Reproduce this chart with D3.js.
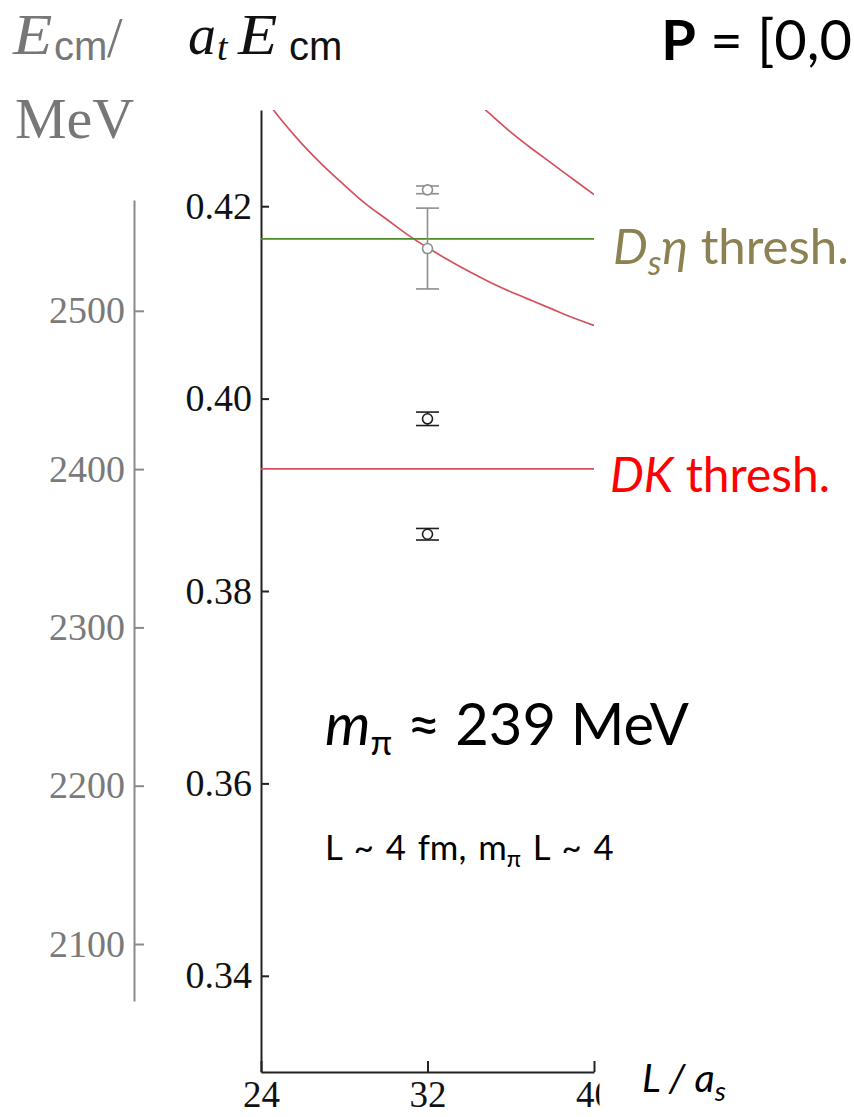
<!DOCTYPE html>
<html>
<head>
<meta charset="utf-8">
<script src="https://cdn.jsdelivr.net/npm/d3@7"></script>
<style>
  html, body { margin: 0; padding: 0; background: #fff; }
  svg { display: block; }
</style>
</head>
<body>
<svg id="chart" width="854" height="1117"></svg>
<script>
// Finite-volume spectrum, P = [0,0,0]: energies in lattice units vs L/a_s

// tick values
const volumeTicks  = [24, 32, 40];
const latticeTicks = [0.34, 0.36, 0.38, 0.40, 0.42];
const mevTicks     = [2100, 2200, 2300, 2400, 2500];

// non-interacting D K levels (lowest and next momentum shell)
const levelAL = [24, 25, 26, 27, 28, 29, 30, 31, 32, 33, 34, 35, 36, 37, 38, 39, 40];
const levelAE = [0.4317, 0.4289, 0.4264, 0.4242, 0.4222, 0.4203, 0.4187, 0.4171, 0.4157,
                 0.4144, 0.4132, 0.4121, 0.4111, 0.4102, 0.4093, 0.4084, 0.4076];
const levelBL = [34, 35, 36, 37, 38, 39, 40];
const levelBE = [0.4315, 0.4296, 0.4277, 0.4260, 0.4244, 0.4228, 0.4212];

// thresholds
const thresholdNames  = ["Dseta", "DK"];
const thresholdValues = [0.4166, 0.3927];

// computed energy levels at L/a_s = 32
const spectrumL    = [32, 32, 32, 32];
const spectrumE    = [0.4217, 0.4156, 0.3979, 0.3859];
const spectrumErr  = [0.0004, 0.0042, 0.0007, 0.0006];
const spectrumKind = ["faint", "faint", "solid", "solid"];

const svg = d3.select("#chart");

const x = d3.scaleLinear().domain([24, 40]).range([261, 594]);
const y = d3.scaleLinear().domain([0.33, 0.43]).range([1072, 110]);
const yMeV = d3.scaleLinear().domain([2064, 2570]).range([1001, 200]);

const serif = "'Liberation Serif', 'Times New Roman', serif";
const sans  = "Lato, 'Open Sans', 'Noto Sans', sans-serif";
const cmSans = "'Liberation Sans', Arial, sans-serif";

const red = "#d4505d", green = "#4d8a2b";
const kindColor = { faint: "#8e8e8e", solid: "#1e1e1e" };

const defs = svg.append("defs");
defs.append("clipPath").attr("id", "plotClip")
  .append("rect").attr("x", x(24)).attr("y", y(0.43))
  .attr("width", x(40) - x(24)).attr("height", y(0.33) - y(0.43));
defs.append("clipPath").attr("id", "xLabelClip")
  .append("rect").attr("x", -400).attr("y", 0).attr("width", 400 + 5).attr("height", 60);

// ---------- MeV axis (left, grey) ----------
const gMeV = svg.append("g").attr("transform", `translate(134,0)`)
  .call(d3.axisRight(yMeV).tickValues(mevTicks).tickSize(10).tickSizeOuter(0).tickFormat(d3.format("d")));
gMeV.select(".domain").attr("stroke", "#8a8a8a").attr("stroke-width", 2);
gMeV.selectAll(".tick line").attr("stroke", "#8a8a8a").attr("stroke-width", 2);
gMeV.selectAll(".tick text").attr("x", -9).attr("text-anchor", "end")
  .attr("fill", "#7a7a7a").style("font-family", serif).style("font-size", "38px");

// ---------- lattice-unit axis ----------
const gY = svg.append("g").attr("transform", `translate(${x(24)},0)`)
  .call(d3.axisRight(y).tickValues(latticeTicks).tickSize(8).tickSizeOuter(0).tickFormat(d3.format(".2f")));
gY.select(".domain").attr("stroke", "#222").attr("stroke-width", 2);
gY.selectAll(".tick line").attr("stroke", "#222").attr("stroke-width", 2);
gY.selectAll(".tick text").attr("x", -9).attr("text-anchor", "end")
  .attr("fill", "#111").style("font-family", serif).style("font-size", "38px");

// ---------- L/a_s axis ----------
const gX = svg.append("g").attr("transform", `translate(0,${y(0.33)})`)
  .call(d3.axisBottom(x).tickValues(volumeTicks).tickSizeInner(-11).tickSizeOuter(0).tickPadding(9));
gX.select(".domain").attr("stroke", "#222").attr("stroke-width", 2);
gX.selectAll(".tick line").attr("stroke", "#222").attr("stroke-width", 2);
gX.selectAll(".tick text").attr("fill", "#111").style("font-family", serif).style("font-size", "37px");
// right-most label is cut off at the frame edge
gX.selectAll(".tick").filter(d => d === 40).select("text")
  .attr("clip-path", "url(#xLabelClip)");

// ---------- curves ----------
const plot = svg.append("g").attr("clip-path", "url(#plotClip)");
const line = d3.line().curve(d3.curveNatural).x(d => x(d[0])).y(d => y(d[1]));
[[levelAL, levelAE], [levelBL, levelBE]].forEach(([ls, es]) => {
  plot.append("path").datum(d3.zip(ls, es)).attr("d", line)
    .attr("fill", "none").attr("stroke", red).attr("stroke-width", 1.7);
});

// threshold lines
plot.selectAll("line.threshold").data(thresholdValues).join("line")
  .attr("class", "threshold")
  .attr("x1", x(24)).attr("x2", x(40))
  .attr("y1", d => y(d)).attr("y2", d => y(d))
  .attr("stroke", (d, i) => thresholdNames[i] === "DK" ? red : green)
  .attr("stroke-width", 1.7);

// ---------- data points with error bars ----------
const pts = d3.range(spectrumE.length).map(i => ({
  L: spectrumL[i], E: spectrumE[i], err: spectrumErr[i], kind: spectrumKind[i]
}));
const capHalf = 11.5;
const gp = svg.append("g").selectAll("g").data(pts).join("g")
  .attr("stroke", d => kindColor[d.kind]).attr("stroke-width", 1.6);
gp.append("line").attr("x1", d => x(d.L)).attr("x2", d => x(d.L))
  .attr("y1", d => y(d.E + d.err)).attr("y2", d => y(d.E - d.err));
gp.append("line").attr("x1", d => x(d.L) - capHalf).attr("x2", d => x(d.L) + capHalf)
  .attr("y1", d => y(d.E + d.err)).attr("y2", d => y(d.E + d.err));
gp.append("line").attr("x1", d => x(d.L) - capHalf).attr("x2", d => x(d.L) + capHalf)
  .attr("y1", d => y(d.E - d.err)).attr("y2", d => y(d.E - d.err));
gp.append("circle").attr("cx", d => x(d.L)).attr("cy", d => y(d.E)).attr("r", 5)
  .attr("fill", "#fff");

// ---------- headers ----------
function italicE(xPos, color) {
  svg.append("text").attr("transform", `translate(${xPos},54) scale(1.15,1)`)
    .attr("fill", color).style("font-family", serif).style("font-style", "italic")
    .style("font-size", "56px").text("E");
}
function cmSub(xPos, color) {
  svg.append("text").attr("x", xPos).attr("y", 60).attr("fill", color)
    .style("font-family", cmSans).style("font-size", "40px").text("cm");
}
italicE(13, "#777");
cmSub(54, "#777");
svg.append("text").attr("x", 107).attr("y", 57).attr("fill", "#777")
  .style("font-family", serif).style("font-size", "56px").text("/");
svg.append("text").attr("x", 15).attr("y", 138).attr("fill", "#777")
  .style("font-family", serif).style("font-size", "58px").text("MeV");

svg.append("text").attr("x", 188).attr("y", 54).attr("fill", "#111")
  .style("font-family", serif).style("font-style", "italic").style("font-size", "56px").text("a");
svg.append("text").attr("x", 217).attr("y", 60).attr("fill", "#111")
  .style("font-family", serif).style("font-style", "italic").style("font-size", "38px").text("t");
italicE(238, "#111");
cmSub(289, "#111");

// momentum frame (runs up to the right edge)
const pf = svg.append("text").attr("y", 60).attr("fill", "#000")
  .style("font-family", sans).style("font-size", "56px");
pf.append("tspan").style("font-weight", "bold").text("P");
pf.append("tspan").text(" = [0,0");
const pfW = pf.node().getComputedTextLength();
pf.attr("x", Math.min(670, 852 - pfW));

// fit a label's font size to a target width
function fitWidth(sel, base, target) {
  const w = sel.node().getComputedTextLength();
  const k = target / w;
  sel.style("font-size", (base * k) + "px");
  sel.selectAll("tspan").each(function () {
    const fs = this.style.fontSize;
    if (fs) d3.select(this).style("font-size", (parseFloat(fs) * k) + "px");
    const dy = d3.select(this).attr("dy");
    if (dy) d3.select(this).attr("dy", parseFloat(dy) * k);
  });
}

// threshold labels
const t1 = svg.append("text").attr("x", 613).attr("y", y(thresholdValues[0]) + 25)
  .attr("fill", "#8c8152").style("font-family", sans).style("font-size", "46px");
t1.append("tspan").style("font-style", "italic").text("D");
t1.append("tspan").attr("dy", 10).style("font-style", "italic").style("font-size", "32px").text("s");
t1.append("tspan").attr("dy", -10).style("font-style", "italic").text("η");
t1.append("tspan").text(" thresh.");
fitWidth(t1, 46, 236);

const t2 = svg.append("text").attr("x", 610).attr("y", y(thresholdValues[1]) + 23)
  .attr("fill", "#ff0000").style("font-family", sans).style("font-size", "46px");
t2.append("tspan").style("font-style", "italic").text("DK");
t2.append("tspan").text(" thresh.");
fitWidth(t2, 46, 220);

// pion mass annotation
const m1 = svg.append("text").attr("x", 325).attr("y", 745).attr("fill", "#000")
  .style("font-family", sans).style("font-size", "56px");
m1.append("tspan").style("font-style", "italic").text("m");
m1.append("tspan").attr("dy", 10).style("font-size", "34px").text("π");
m1.append("tspan").attr("dy", -10).text(" ≈ 239 MeV");
fitWidth(m1, 56, 364);

const m2 = svg.append("text").attr("x", 325).attr("y", 860).attr("fill", "#000")
  .style("font-family", sans).style("font-size", "30px").style("word-spacing", "3px");
m2.append("tspan").text("L ~ 4 fm, m");
m2.append("tspan").attr("dy", 6).style("font-size", "20px").text("π");
m2.append("tspan").attr("dy", -6).text(" L ~ 4");
fitWidth(m2, 30, 292);

// x-axis title
const xt = svg.append("text").attr("x", 642).attr("y", 1092).attr("fill", "#000")
  .style("font-family", sans).style("font-size", "34px").style("font-style", "italic");
xt.append("tspan").text("L / a");
xt.append("tspan").attr("dy", 8).style("font-size", "24px").text("s");
fitWidth(xt, 34, 84);
</script>
</body>
</html>
